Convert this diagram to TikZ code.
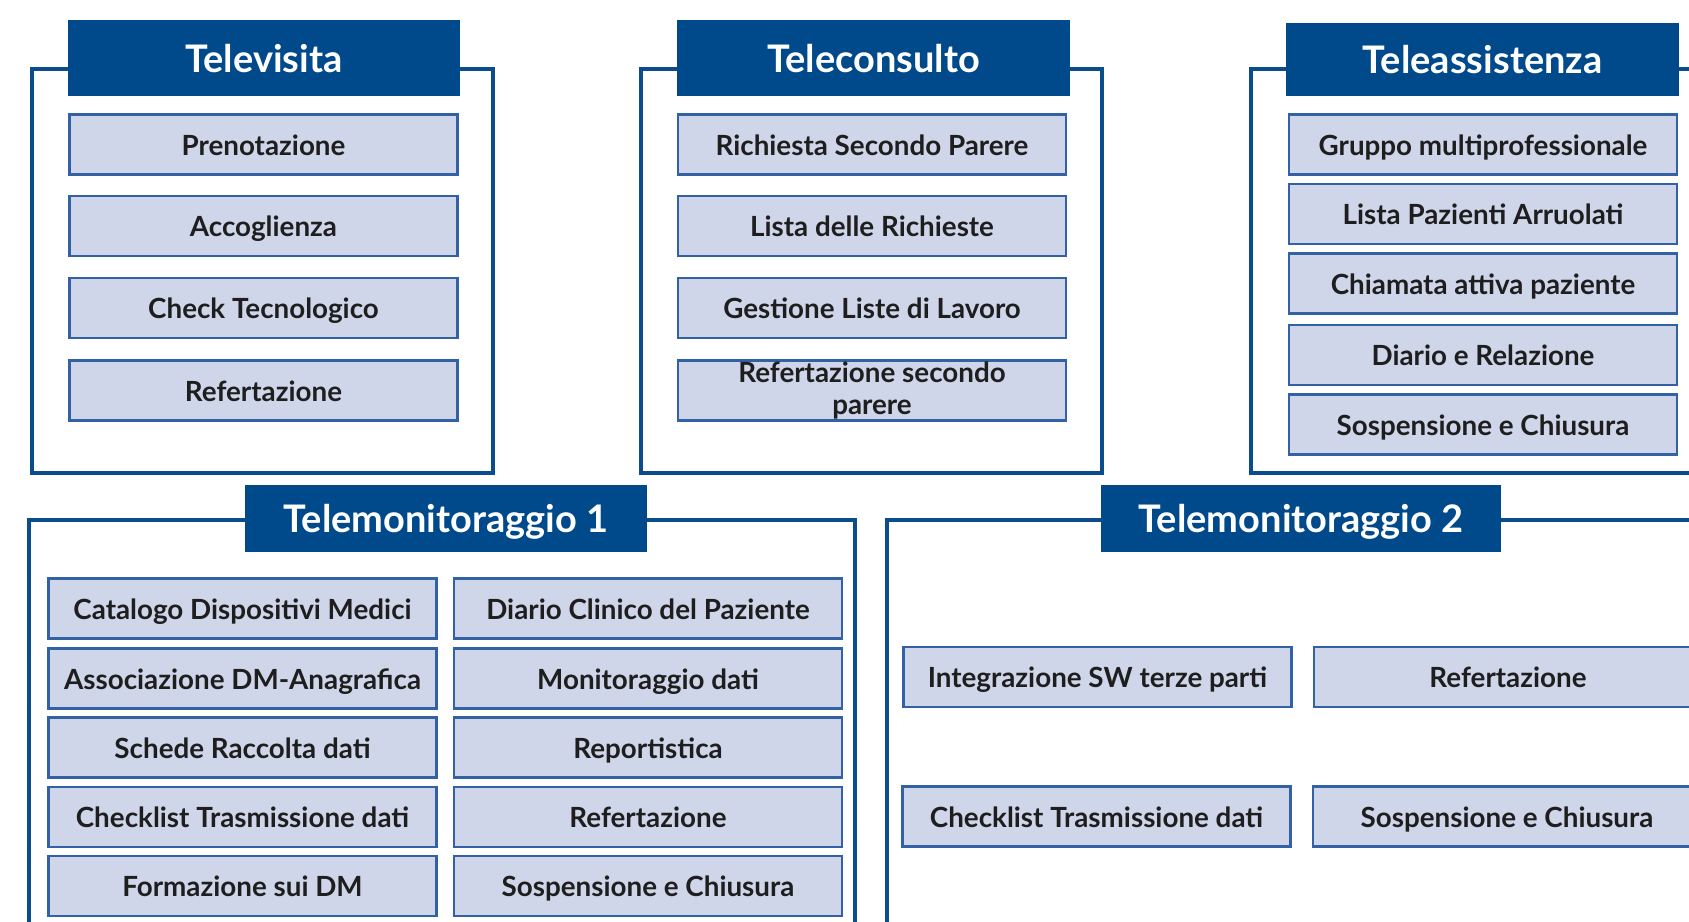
\documentclass[tikz,border=0pt]{standalone}
\usepackage{fontspec}
\setmainfont{Lato}
\usetikzlibrary{positioning}

\definecolor{tmblue}{RGB}{0,74,140}
\definecolor{frameblue}{RGB}{10,76,140}
\definecolor{itemfill}{RGB}{208,214,234}
\definecolor{itemline}{RGB}{50,98,165}
\definecolor{itemtext}{RGB}{30,30,30}

\begin{document}
\begin{tikzpicture}[x=0.01cm,y=-0.01cm,
  frame/.style={draw=frameblue, line width=1.15pt},
  titlebox/.style={fill=tmblue, text=white, font=\bfseries\fontsize{10.8}{12}\selectfont,
    minimum width=3.92cm, minimum height=0.76cm, inner sep=0pt, text height=2ex, text depth=0.4ex},
  item/.style={draw=itemline, fill=itemfill, line width=0.7pt, text=itemtext,
    font=\bfseries\fontsize{7.9}{9}\selectfont, align=center,
    minimum width=3.88cm, minimum height=0.6cm, inner sep=0pt, text height=1.6ex, text depth=0.4ex}]
\useasboundingbox (0,0) rectangle (1689,922);
\clip (0,0) rectangle (1689,922);

%%%%%%%%%%%%%%%%%%%%%%%%%%%%%%%%%%%%%%%%%%%%%%%%%%%%%%%%%%%%%%%%%%%%%%%%%%%%%%%%
\draw[frame] (32,69) rectangle (493,473); %frame televisita
\node[titlebox] (tv) at (264,58) {Televisita};
\node[item] (tv1) at (263.5,144.5) {Prenotazione};
\node[item] (tv2) at (263.5,226) {Accoglienza};
\node[item] (tv3) at (263.5,308) {Check Tecnologico};
\node[item] (tv4) at (263.5,390.5) {Refertazione};

\draw[frame] (641,69) rectangle (1102,473); %frame teleconsulto
\node[titlebox] (tc) at (873.5,58) {Teleconsulto};
\node[item] (tc1) at (872,144.5) {Richiesta Secondo Parere};
\node[item] (tc2) at (872,226) {Lista delle Richieste};
\node[item] (tc3) at (872,308) {Gestione Liste di Lavoro};
\node[item, text height=, text depth=] (tc4) at (872,390.5) {Refertazione secondo\\parere};

\draw[frame] (1251,69) rectangle (1760,473); %frame teleassistenza, cut on the right
\node[titlebox, minimum height=0.73cm] (ta) at (1482.5,59.5) {Teleassistenza};
\node[item] (ta1) at (1483,144.5) {Gruppo multiprofessionale};
\node[item] (ta2) at (1483,214) {Lista Pazienti Arruolati};
\node[item] (ta3) at (1483,283.5) {Chiamata attiva paziente};
\node[item] (ta4) at (1483,355) {Diario e Relazione};
\node[item] (ta5) at (1483,424.5) {Sospensione e Chiusura};

%%%%%%%%%%%%%%%%%%%%%%%%%%%%%%%%%%%%%%%%%%%%%%%%%%%%%%%%%%%%%%%%%%%%%%%%%%%%%%%%
\draw[frame] (29,520) rectangle (855,1000); %frame telemonitoraggio 1
\node[titlebox, minimum width=4.02cm, minimum height=0.67cm] (tm) at (446,518.5) {Telemonitoraggio 1};
\node[item] (tm1) at (242.5,608.5) {Catalogo Dispositivi Medici};
\node[item] (tm2) at (242.5,678.5) {Associazione DM-Anagrafica};
\node[item] (tm3) at (242.5,747.5) {Schede Raccolta dati};
\node[item] (tm4) at (242.5,817) {Checklist Trasmissione dati};
\node[item] (tm5) at (242.5,886) {Formazione sui DM};
\node[item] (tm6) at (648,608.5) {Diario Clinico del Paziente};
\node[item] (tm7) at (648,678.5) {Monitoraggio dati};
\node[item] (tm8) at (648,747.5) {Reportistica};
\node[item] (tm9) at (648,817) {Refertazione};
\node[item] (tm10) at (648,886) {Sospensione e Chiusura};

\draw[frame] (887,520) rectangle (1760,1000); %frame telemonitoraggio 2
\node[titlebox, minimum width=4cm, minimum height=0.67cm] (tn) at (1301,518.5) {Telemonitoraggio 2};
\node[item] (tn1) at (1097.5,677) {Integrazione SW terze parti};
\node[item] (tn2) at (1508,677) {Refertazione};
\node[item] (tn3) at (1096.5,816.5) {Checklist Trasmissione dati};
\node[item] (tn4) at (1507,816.5) {Sospensione e Chiusura};
\end{tikzpicture}
\end{document}
